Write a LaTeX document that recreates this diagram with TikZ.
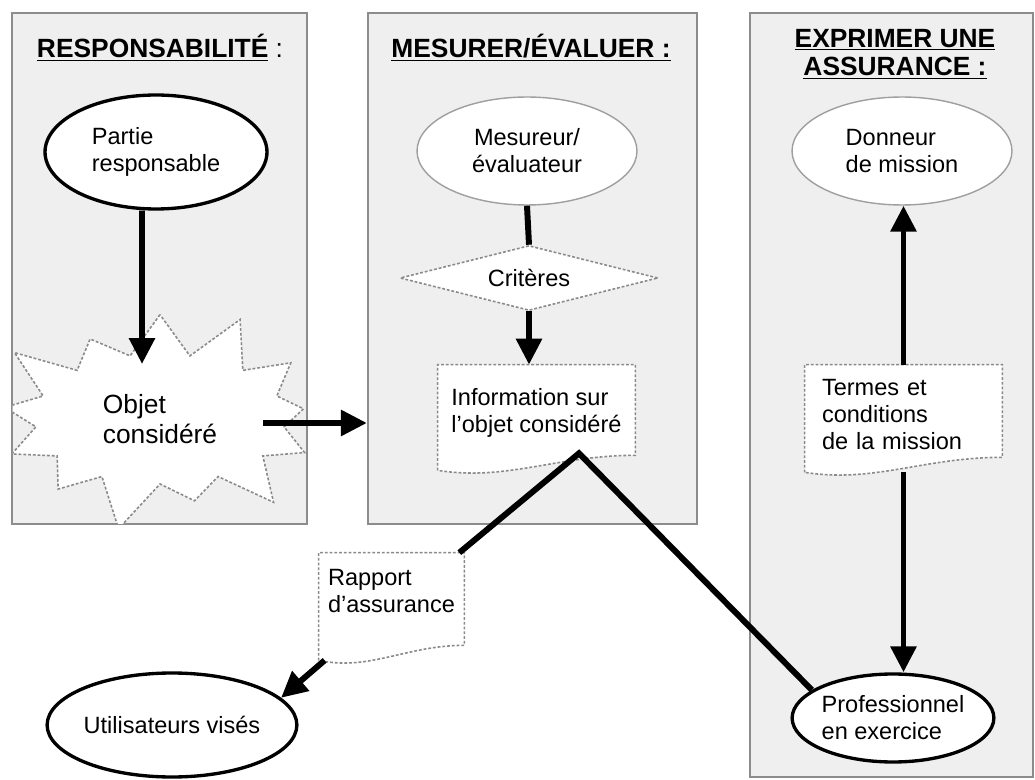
\documentclass[tikz,border=0pt]{standalone}
\usepackage{fontspec}
\setmainfont{Liberation Sans}
\usetikzlibrary{arrows.meta}
\usetikzlibrary{shapes.geometric,shapes.symbols}
\usetikzlibrary{calc,positioning}
\definecolor{panelgray}{HTML}{EFEFF0}
\definecolor{framegray}{HTML}{8C8C8C}
\definecolor{dashgray}{HTML}{8A8A8A}
\pgfdeclarelayer{bg}
\pgfdeclarelayer{docs}
\pgfsetlayers{bg,docs,main}

\begin{document}
\begin{tikzpicture}[x=0.02cm,y=-0.02cm]
  \tikzset{every node/.style = {font=\fontsize{13.4}{15.4}\selectfont}}
  \tikzset{panel/.style = {shape=rectangle,draw=framegray,fill=panelgray,line width=1.3pt,inner sep=0pt}}
  \tikzset{heading/.style = {font=\fontsize{15}{16}\selectfont\bfseries,align=center,inner sep=0pt}}
  \tikzset{actor/.style = {shape=ellipse,draw,fill=white,line width=1.9pt,inner sep=0pt,align=left}}
  \tikzset{thinactor/.style = {actor,draw=gray!75,line width=0.8pt}}
  \tikzset{dotline/.style = {draw=dashgray,line width=0.9pt,dash pattern=on 1.6pt off 1.1pt}}
  \tikzset{docbox/.style = {shape=rectangle,inner sep=0pt,align=left}}
  \tikzset{burst/.style = {shape=starburst,dotline,fill=white,starburst points=13,starburst point height=1.1cm,inner sep=0pt,align=left,font=\fontsize{15}{16.8}\selectfont}}
  \tikzset{crit/.style = {shape=diamond,dotline,fill=white,aspect=4,inner sep=0pt}}
  \tikzset{link/.style = {line width=3.4pt}}
  \tikzset{%
  bigtip/.tip={Triangle[length=0.52cm,width=0.5cm]},
}
  \tikzset{edge/.style = {link,-bigtip}}

  \begin{pgfonlayer}{bg}
    \fill[white] (0,0) rectangle (1035,780);
    \node[panel,minimum width=5.9cm,minimum height=10.22cm] (panResp) at (159.5,268.5) {};
    \node[panel,minimum width=6.58cm,minimum height=10.22cm] (panMes) at (532.5,268.5) {};
    \node[panel,minimum width=5.66cm,minimum height=15.28cm] (panExp) at (891.5,395) {};
  \end{pgfonlayer}
  \useasboundingbox (0,0) rectangle (1035,780);

  % titles
  \node[heading] (tResp) at (160,48) {\underline{RESPONSABILITÉ}\mdseries{} :};
  \node[heading] (tMes) at (531,48) {\underline{MESURER/ÉVALUER :}};
  \node[heading] (tExp) at (895,54) {\underline{EXPRIMER UNE}\\\underline{ASSURANCE :}};

  % responsabilite
  \node[actor,minimum width=4.44cm,minimum height=2.28cm] (partie) at (156,152) {Partie\\responsable};
  \begin{scope}
    \clip ([shift={(1pt,1pt)}]panResp.south west) rectangle ([shift={(-1pt,-1pt)}]panResp.north east);
    \node[burst,minimum width=7.2cm,minimum height=4.8cm] (objet) at (160,419) {Objet\\considéré};
  \end{scope}

  % mesurer
  \node[thinactor,align=center,minimum width=4.4cm,minimum height=2.16cm] (mesureur) at (527,151) {Mesureur/\\évaluateur};
  \node[crit,minimum width=5.16cm,minimum height=1.3cm] (criteres) at (529,278) {Critères};
  \node[docbox,minimum width=3.94cm,text height=1.36cm,text depth=0.74cm] (info) at (536.5,417.5) {Information sur\\l’objet considéré};

  % assurance
  \node[thinactor,minimum width=4.4cm,minimum height=2.16cm] (donneur) at (902,151) {Donneur\\de mission};
  \node[docbox,inner xsep=0.34cm,text width=3.26cm,text height=0.6cm,text depth=1.54cm] (termes) at (903.5,418.5) {Termes et\\conditions\\de la mission};
  \node[actor,minimum width=4.02cm,minimum height=1.76cm] (profi) at (893,718) {Professionnel\\en exercice};

  % outside
  \node[docbox,minimum width=2.9cm,text height=1.2cm,text depth=0.94cm] (rapport) at (391.5,606.5) {Rapport\\d’assurance};
  \node[actor,align=center,minimum width=4.44cm,minimum height=2.08cm] (users) at (172,725) {Utilisateurs visés};

  \begin{pgfonlayer}{docs}
    \foreach \d in {info,rapport,termes}
    \draw[dotline,fill=white] (\d.south west) -- (\d.north west) -- (\d.north east) -- ([yshift=0.3cm]\d.south east)
      .. controls ($(\d.south east)!0.4!(\d.south west)+(0,0.3cm)$) and ($(\d.south east)!0.65!(\d.south west)+(0,-0.22cm)$) .. (\d.south west) -- cycle;
  \end{pgfonlayer}

  % connectors
  \coordinate (objOut) at ($(objet.center)+(2.06cm,-0.08cm)$);
  \coordinate (infoTip) at ($(info.south)+(0.85cm,0.34cm)$);
  \draw[edge] ([xshift=-0.28cm]partie.south) -- ([xshift=-0.36cm,yshift=1.1cm]objet.center);
  \draw[edge] (objOut) -- (objOut -| panMes.west);
  \draw[link] (mesureur.south) -- (criteres.north);
  \draw[edge] (criteres.south) -- (criteres.south |- info.north);
  \draw[link] ([xshift=-0.1cm]rapport.north east) -- (infoTip) -- (profi.161);
  \draw[edge] ([xshift=0.12cm]rapport.south west) -- (users.14);
  \draw[edge] (termes.north) -- (termes.north |- donneur.south);
  \draw[edge] (termes.south) -- (termes.south |- profi.north);

\end{tikzpicture}
\end{document}
